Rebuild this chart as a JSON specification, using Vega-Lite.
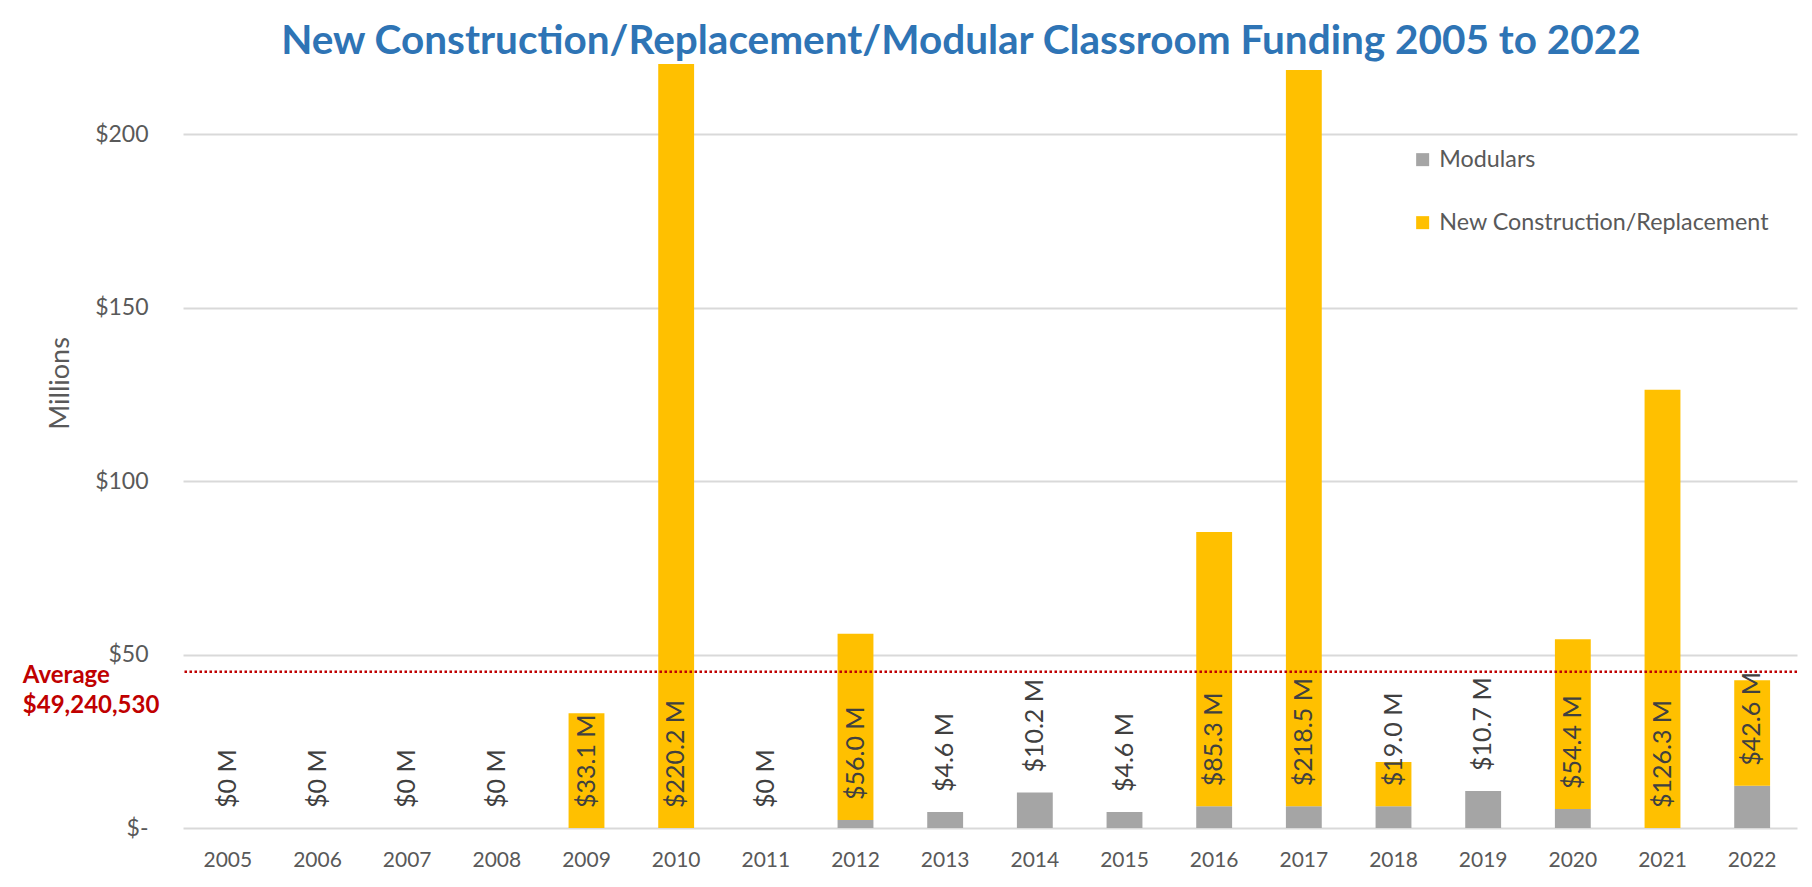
{
  "$schema": "https://vega.github.io/schema/vega-lite/v6.json",
  "width": 1614,
  "height": 764,
  "autosize": {"type": "none"},
  "padding": {"left": 183, "top": 64, "right": 15, "bottom": 59},
  "background": "white",
  "title": {
    "text": "New Construction/Replacement/Modular Classroom Funding 2005 to 2022",
    "font": "Lato",
    "fontSize": 40.5,
    "fontWeight": "bold",
    "color": "#2E74B5",
    "anchor": "middle",
    "frame": "group",
    "dx": -29,
    "offset": 2
  },
  "config": {
    "view": {"stroke": null},
    "font": "Lato"
  },
  "datasets": {
    "bars": [
      {"year": "2005", "series": "Modulars", "value": 0},
      {"year": "2005", "series": "New Construction/Replacement", "value": 0},
      {"year": "2006", "series": "Modulars", "value": 0},
      {"year": "2006", "series": "New Construction/Replacement", "value": 0},
      {"year": "2007", "series": "Modulars", "value": 0},
      {"year": "2007", "series": "New Construction/Replacement", "value": 0},
      {"year": "2008", "series": "Modulars", "value": 0},
      {"year": "2008", "series": "New Construction/Replacement", "value": 0},
      {"year": "2009", "series": "Modulars", "value": 0},
      {"year": "2009", "series": "New Construction/Replacement", "value": 33.1},
      {"year": "2010", "series": "Modulars", "value": 0},
      {"year": "2010", "series": "New Construction/Replacement", "value": 220.2},
      {"year": "2011", "series": "Modulars", "value": 0},
      {"year": "2011", "series": "New Construction/Replacement", "value": 0},
      {"year": "2012", "series": "Modulars", "value": 2.3},
      {"year": "2012", "series": "New Construction/Replacement", "value": 53.7},
      {"year": "2013", "series": "Modulars", "value": 4.6},
      {"year": "2013", "series": "New Construction/Replacement", "value": 0},
      {"year": "2014", "series": "Modulars", "value": 10.2},
      {"year": "2014", "series": "New Construction/Replacement", "value": 0},
      {"year": "2015", "series": "Modulars", "value": 4.6},
      {"year": "2015", "series": "New Construction/Replacement", "value": 0},
      {"year": "2016", "series": "Modulars", "value": 6.3},
      {"year": "2016", "series": "New Construction/Replacement", "value": 79.0},
      {"year": "2017", "series": "Modulars", "value": 6.3},
      {"year": "2017", "series": "New Construction/Replacement", "value": 212.2},
      {"year": "2018", "series": "Modulars", "value": 6.3},
      {"year": "2018", "series": "New Construction/Replacement", "value": 12.7},
      {"year": "2019", "series": "Modulars", "value": 10.7},
      {"year": "2019", "series": "New Construction/Replacement", "value": 0},
      {"year": "2020", "series": "Modulars", "value": 5.5},
      {"year": "2020", "series": "New Construction/Replacement", "value": 48.9},
      {"year": "2021", "series": "Modulars", "value": 0},
      {"year": "2021", "series": "New Construction/Replacement", "value": 126.3},
      {"year": "2022", "series": "Modulars", "value": 12.2},
      {"year": "2022", "series": "New Construction/Replacement", "value": 30.4}
    ],
    "labels": [
      {"year": "2005", "modular": 0, "label": "$0 M"},
      {"year": "2006", "modular": 0, "label": "$0 M"},
      {"year": "2007", "modular": 0, "label": "$0 M"},
      {"year": "2008", "modular": 0, "label": "$0 M"},
      {"year": "2009", "modular": 0, "label": "$33.1 M"},
      {"year": "2010", "modular": 0, "label": "$220.2 M"},
      {"year": "2011", "modular": 0, "label": "$0 M"},
      {"year": "2012", "modular": 2.3, "label": "$56.0 M"},
      {"year": "2013", "modular": 4.6, "label": "$4.6 M"},
      {"year": "2014", "modular": 10.2, "label": "$10.2 M"},
      {"year": "2015", "modular": 4.6, "label": "$4.6 M"},
      {"year": "2016", "modular": 6.3, "label": "$85.3 M"},
      {"year": "2017", "modular": 6.3, "label": "$218.5 M"},
      {"year": "2018", "modular": 6.3, "label": "$19.0 M"},
      {"year": "2019", "modular": 10.7, "label": "$10.7 M"},
      {"year": "2020", "modular": 5.5, "label": "$54.4 M"},
      {"year": "2021", "modular": 0, "label": "$126.3 M"},
      {"year": "2022", "modular": 12.2, "label": "$42.6 M"}
    ]
  },
  "encoding": {
    "x": {
      "field": "year",
      "type": "nominal",
      "scale": {"paddingInner": 0.6, "paddingOuter": 0.3},
      "axis": {
        "title": null,
        "labelAngle": 0,
        "labelFontSize": 21,
        "labelColor": "#595959",
        "labelPadding": 21,
        "ticks": false,
        "domain": false,
        "grid": false
      }
    }
  },
  "layer": [
    {
      "data": {"name": "bars"},
      "mark": {"type": "bar"},
      "encoding": {
        "y": {
          "field": "value",
          "type": "quantitative",
          "stack": "zero",
          "scale": {"domain": [0, 220.2], "nice": false},
          "axis": {
            "title": "Millions",
            "titleFontSize": 27,
            "titleFontWeight": "normal",
            "titleColor": "#595959",
            "titlePadding": 20,
            "titleY": 319,
            "labelFontSize": 23,
            "labelColor": "#595959",
            "labelPadding": 35,
            "ticks": false,
            "domain": false,
            "gridColor": "#D9D9D9",
            "gridWidth": 2,
            "values": [0, 50, 100, 150, 200],
            "labelExpr": "datum.value == 0 ? '$-\u00a0\u00a0\u00a0' : '$' + datum.value"
          }
        },
        "color": {
          "field": "series",
          "type": "nominal",
          "scale": {
            "domain": ["Modulars", "New Construction/Replacement"],
            "range": ["#A5A5A5", "#FFC000"]
          },
          "legend": {
            "orient": "none",
            "legendX": 1228,
            "legendY": 84,
            "title": null,
            "symbolType": "square",
            "symbolSize": 169,
            "symbolStrokeWidth": 0,
            "labelFontSize": 23.3,
            "labelColor": "#595959",
            "labelOffset": 5,
            "labelLimit": 0,
            "rowPadding": 39
          }
        },
        "order": {"field": "series", "type": "nominal", "sort": "ascending"}
      }
    },
    {
      "data": {"name": "labels"},
      "mark": {
        "type": "text",
        "angle": 270,
        "align": "left",
        "baseline": "middle",
        "dx": 20,
        "fontSize": 25,
        "color": "#404040"
      },
      "encoding": {
        "y": {"field": "modular", "type": "quantitative"},
        "text": {"field": "label", "type": "nominal"}
      }
    },
    {
      "data": {"values": [{"avg": 45}]},
      "mark": {"type": "rule", "color": "#C00000", "strokeWidth": 2.5, "strokeDash": [2.5, 2.5]},
      "encoding": {
        "x": null,
        "y": {"field": "avg", "type": "quantitative"}
      }
    },
    {
      "data": {"values": [{"year": "2005", "avg": 45, "label": "Average\n$49,240,530"}]},
      "mark": {
        "type": "text",
        "align": "left",
        "baseline": "top",
        "lineBreak": "\n",
        "lineHeight": 30,
        "dx": -205,
        "dy": -8,
        "fontSize": 24,
        "fontWeight": "bold",
        "color": "#C00000"
      },
      "encoding": {
        "y": {"field": "avg", "type": "quantitative"},
        "text": {"field": "label", "type": "nominal"}
      }
    }
  ]
}
